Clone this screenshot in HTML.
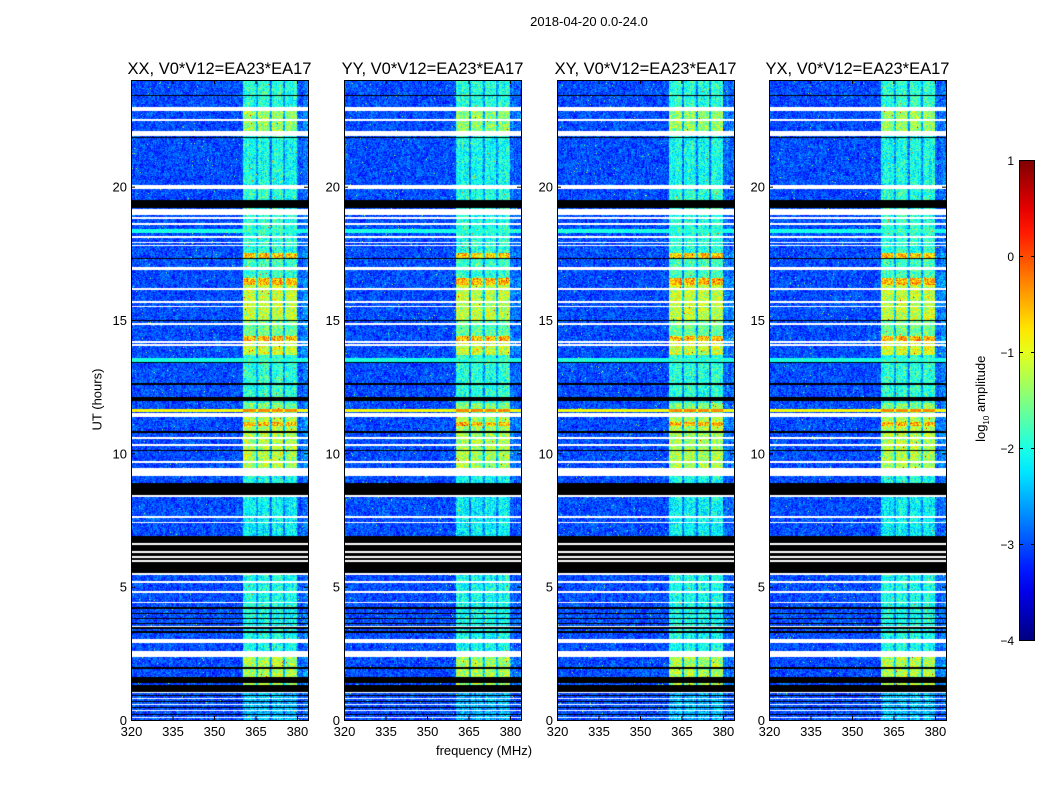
<!DOCTYPE html>
<html><head><meta charset="utf-8">
<style>
body{margin:0;background:#fff;width:1050px;height:800px;overflow:hidden;font-family:"Liberation Sans",sans-serif;}
#root{position:relative;width:1050px;height:800px;}
.t{position:absolute;color:#000;white-space:nowrap;}
canvas{position:absolute;}
</style></head>
<body>
<div id="root">
<div class="t" style="left:489px;top:14px;width:200px;text-align:center;font-size:13px;">2018-04-20 0.0-24.0</div>
<div class="t" style="left:47px;top:392px;width:100px;text-align:center;font-size:13px;transform:rotate(-90deg);">UT (hours)</div>
<div class="t" style="left:384px;top:743px;width:200px;text-align:center;font-size:13px;">frequency (MHz)</div>
<div class="t" style="left:922px;top:390px;width:120px;text-align:center;font-size:13px;transform:rotate(-90deg);">log<sub style="font-size:8px">10</sub> amplitude</div>
<svg id="ov" width="1050" height="800" style="position:absolute;left:0;top:0"></svg>
</div>
<script>
// ---- data ----
const panelNames = ["XX","YY","XY","YX"];
const panelLeft = [131,344,557,769];
const xTicks = [320,335,350,365,380];
const yTicks = [0,5,10,15,20];
const cbTicks = [1,0,-1,-2,-3,-4];
// channel profile breakpoints (MHz) and relative band brightness
const channelFreqs  = [320,360.4,360.5,365.0,365.2,365.9,366.1,370.0,370.2,370.9,371.1,374.8,375.0,375.7,375.9,380.0,380.1,384];
const channelLevels = [0,  0,    1.1,  1.1,  0.35, 0.35, 1.1,  1.1,  0.35, 0.35, 1.1,  1.1,  0.35, 0.35, 1.1,  1.1,  0.15, 0.15];
// band gain per time segment [startHour, endHour, gain]
const gainSegments = [[0,1.0,0.5],[1.0,2.4,1.6],[2.4,5.45,0.9],[5.45,6.9,0.8],[6.9,8.9,0.8],[8.9,9.45,0.9],[9.45,11.35,1.6],[11.35,11.9,1.4],[11.9,13.4,1.0],[13.4,13.7,1.0],[13.7,14.2,1.8],[14.2,14.4,2.3],[14.4,14.95,1.3],[14.95,16.3,1.7],[16.3,16.57,2.3],[16.57,17.3,1.1],[17.3,17.5,2.2],[17.5,19.9,1.0],[19.9,21.9,0.9],[21.9,22.9,1.5],[22.9,24,1.0]];
const orangeLines = [11.1,14.3];
// flagged (white) hour ranges
const whiteFlags = [[0.08,0.12],[0.32,0.36],[0.56,0.6],[0.8,0.84],[1.0,1.05],[2.37,2.6],[2.9,3.05],[3.47,3.52],[4.37,4.42],[4.78,4.84],[5.15,5.2],[5.45,5.5],[5.94,5.99],[6.09,6.14],[6.28,6.33],[6.58,6.63],[7.37,7.42],[7.59,7.64],[8.38,8.45],[9.15,9.45],[9.65,9.7],[10.29,10.34],[10.55,10.6],[11.35,11.5],[14.8,14.9],[14.04,14.09],[14.15,14.2],[15.47,15.52],[15.65,15.7],[16.14,16.19],[16.88,17.0],[17.76,17.81],[17.87,17.92],[18.09,18.14],[18.58,18.63],[18.8,18.85],[18.95,19.15],[19.92,20.05],[21.9,22.1],[22.48,22.53],[22.85,23.0]];
// black (zero) hour ranges
const blackFlags = [[0.2,0.24],[0.44,0.48],[0.68,0.72],[0.9,0.94],[1.05,1.3],[1.37,1.6],[1.93,1.98],[3.28,3.33],[3.43,3.47],[3.6,3.65],[3.78,3.83],[3.98,4.03],[4.18,4.23],[5.5,6.9],[8.45,8.9],[10.1,10.14],[10.78,10.82],[11.95,12.1],[12.58,12.62],[13.4,13.44],[14.95,15.0],[17.27,17.31],[19.2,19.5],[21.83,21.87],[23.4,23.44]];
// full-width bright rows [start, end, level]
const fullBands = [[13.42,13.58,-2.0],[18.28,18.42,-2.0],[11.55,11.67,-0.9]];

// ---- axis functions ----
const PW=177, PH=640, PT=80;
const xOf = f => (f-320)/64*PW;
const yOf = h => PH - h/24*PH;
const cbY = v => 160 + (1-v)/5*480;
function jet(v){let t=Math.max(0,Math.min(1,(v+4)/5));
  const c=x=>Math.max(0,Math.min(1,1.5-Math.abs(x)));
  return [c(4*t-3)*255,c(4*t-2)*255,c(4*t-1)*255];}
function interp(xs,ys,x){for(let i=0;i<xs.length-1;i++){if(x>=xs[i]&&x<=xs[i+1]){const u=(x-xs[i])/(xs[i+1]-xs[i]||1);return ys[i]+u*(ys[i+1]-ys[i]);}}return 0;}
function hash(a,b,c){let h=(a*374761393+b*668265263+c*2147483647)|0;h=(h^(h>>>13))*1274126177|0;h^=h>>>16;return (h>>>0)/4294967296;}
const inR=(arr,h)=>arr.some(r=>h>=r[0]&&h<r[1]);

const root=document.getElementById('root');
const ov=document.getElementById('ov');
const NS='http://www.w3.org/2000/svg';
function sv(tag,attrs,name,txt){const e=document.createElementNS(NS,tag);for(const k in attrs)e.setAttribute(k,attrs[k]);
  
  
  if(txt!==undefined)e.textContent=txt;ov.appendChild(e);return e;}

panelNames.forEach((pn,pi)=>{
  const cv=document.createElement('canvas');cv.width=PW;cv.height=PH;
  cv.style.left=panelLeft[pi]+'px';cv.style.top=PT+'px';
  
  
  root.insertBefore(cv,ov);
  const ctx=cv.getContext('2d');const im=ctx.createImageData(PW,PH);
  const prof=[];for(let x=0;x<PW;x++)prof.push(interp(channelFreqs,channelLevels,320+64*(x+0.5)/PW));
  for(let y=0;y<PH;y++){
    const h=24*(1-(y+0.5)/PH);
    let kind='d';
    if(inR(blackFlags,h))kind='b';
    if(inR(whiteFlags,h))kind='w';
    let g=1;for(const s of gainSegments)if(h>=s[0]&&h<s[1])g=s[2];
    if(orangeLines.some(o=>Math.abs(h-o)<0.06))g=2.3;
    let full=null;for(const f of fullBands)if(h>=f[0]&&h<f[1])full=f[2];
    for(let x=0;x<PW;x++){
      const i=(y*PW+x)*4;let r,gg,b;
      if(kind==='w'){r=gg=b=255;}
      else if(kind==='b'){r=gg=b=0;}
      else{
        const n=hash(x,y,pi),n2=hash(x,0,pi+7),n3=hash(x>>1,y>>2,pi+3);
        let v=-3.0+(n-0.5)*0.7+(n3-0.5)*0.3;
        if(n>0.996)v=-1.3;
        if(prof[x]>0.05)v+=g*prof[x]*(0.88+0.2*n)+(n2-0.5)*0.3;
        if(full!==null)v=Math.max(v,full+(n-0.5)*0.3+(prof[x]>0.5&&full>-1.5?0.6:0));
        [r,gg,b]=jet(v);
      }
      im.data[i]=r;im.data[i+1]=gg;im.data[i+2]=b;im.data[i+3]=255;
    }
  }
  ctx.putImageData(im,0,0);
  const L=panelLeft[pi];
  sv('rect',{x:L+0.5,y:PT+0.5,width:PW,height:PH,fill:'none',stroke:'#000','stroke-width':1},'panel-frame-'+pn.toLowerCase());
  sv('text',{x:L+PW/2,y:74,'text-anchor':'middle','font-size':16.5,'font-family':'Liberation Sans'},'panel-title-'+pn.toLowerCase(),pn+', V0*V12=EA23*EA17');
  xTicks.forEach(t=>{const X=L+xOf(t)+0.5;
    sv('line',{x1:X,y1:PT+PH,x2:X,y2:PT+PH-4,stroke:'#000'},'x-tick');
    sv('line',{x1:X,y1:PT,x2:X,y2:PT+4,stroke:'#000'},'x-tick-top');
    sv('text',{x:X,y:736,'text-anchor':'middle','font-size':13,'font-family':'Liberation Sans'},'x-tick-label',String(t));});
  yTicks.forEach(t=>{const Y=PT+yOf(t)+0.5;
    sv('line',{x1:L,y1:Y,x2:L+4,y2:Y,stroke:'#000'},'y-tick');
    sv('line',{x1:L+PW,y1:Y,x2:L+PW-4,y2:Y,stroke:'#000'},'y-tick-right');
    sv('text',{x:L-4,y:Y+4.5,'text-anchor':'end','font-size':13,'font-family':'Liberation Sans'},'y-tick-label',String(t));});
});
// colorbar
const defs=sv('defs',{},'colorbar-defs');
const lg=document.createElementNS(NS,'linearGradient');lg.setAttribute('id','jg');lg.setAttribute('x1','0');lg.setAttribute('y1','1');lg.setAttribute('x2','0');lg.setAttribute('y2','0');
for(let k=0;k<=20;k++){const v=-4+5*k/20;const c=jet(v);const st=document.createElementNS(NS,'stop');st.setAttribute('offset',k/20);st.setAttribute('stop-color',`rgb(${c.map(Math.round).join(',')})`);lg.appendChild(st);}
defs.appendChild(lg);
sv('rect',{x:1019.5,y:160.5,width:15,height:480,fill:'url(#jg)',stroke:'#000'},'colorbar');
cbTicks.forEach(t=>{const Y=cbY(t)+0.5;
  sv('line',{x1:1019,y1:Y,x2:1023,y2:Y,stroke:'#000'},'colorbar-tick');
  sv('line',{x1:1035,y1:Y,x2:1031,y2:Y,stroke:'#000'},'colorbar-tick-right');
  sv('text',{x:1014,y:Y+4.5,'text-anchor':'end','font-size':12,'font-family':'Liberation Sans'},'colorbar-tick-label',String(t).replace('-','\u2212'));});
</script>
</body></html>
